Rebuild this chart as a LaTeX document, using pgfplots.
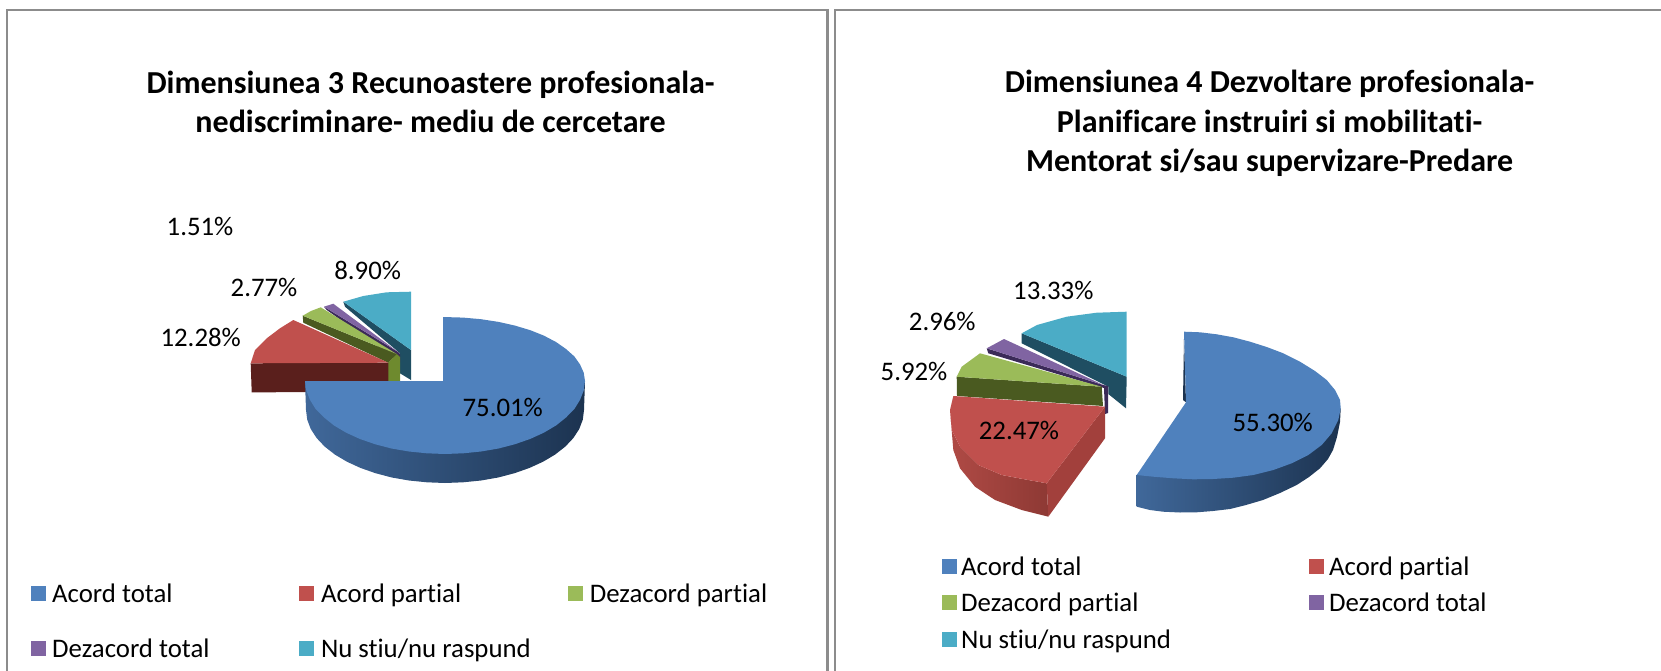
\documentclass[border=0pt]{standalone}
\usepackage{pgfplots}
\pgfplotsset{compat=1.18}
\usepackage{fontspec}
\setmainfont[Ligatures=NoCommon]{Carlito}
\definecolor{cb}{HTML}{4F81BD}
\definecolor{cr}{HTML}{C0504D}
\definecolor{cg}{HTML}{9BBB59}
\definecolor{cp}{HTML}{8064A2}
\definecolor{ct}{HTML}{4BACC6}
\definecolor{dr}{HTML}{5A1F1C}
\definecolor{dg}{HTML}{4A5A20}
\definecolor{og}{HTML}{6E8A2E}
\definecolor{dp}{HTML}{3B2A58}
\definecolor{dt}{HTML}{1F4E62}
\definecolor{frame}{HTML}{8C8C8C}
\definecolor{bl}{HTML}{40689A}
\definecolor{br}{HTML}{1C3350}
\definecolor{rl}{HTML}{AF4A45}
\definecolor{rr}{HTML}{8E3934}
\definecolor{rf}{HTML}{A2403C}
\newcommand{\poly}[2]{\addplot[draw=none,fill=#1,forget plot] coordinates {#2} --cycle;}
\newcommand{\spoly}[3]{\addplot[draw=none,left color=#1,right color=#2,forget plot] coordinates {#3} --cycle;}
\newcommand{\key}[5]{\addplot[draw=none,fill=#1,forget plot] coordinates {(#2,#4) (#3,#4) (#3,#5) (#2,#5)} --cycle;}
\newcommand{\lab}[3]{\node[font=\fontsize{26.8}{32}\selectfont,anchor=center] at (axis cs:#1,#2) {#3};}
\newcommand{\leg}[3]{\node[font=\fontsize{26.8}{32}\selectfont,anchor=base west,inner sep=0pt] at (axis cs:#1,#2) {#3};}
\begin{document}
\begin{tikzpicture}
\useasboundingbox (0,0) rectangle (1661pt,671pt);
\begin{axis}[at={(0,0)},anchor=south west,scale only axis,width=1661pt,height=671pt,
  xmin=0,xmax=1661,ymin=0,ymax=671,y dir=reverse,axis lines=none,clip=true]
% frames
\addplot[frame,line width=2.2pt,forget plot] coordinates {(7,671) (7,10) (827.5,10) (827.5,671)};
\addplot[frame,line width=2.2pt,forget plot] coordinates {(835,671) (835,10) (1661,10)};
% --- left pie
\poly{dt}{(343.3,301.7) (411,350) (411,380) (400,373.3) (400,353.3) (345,306.7)}
\poly{ct}{(343.3,301.7) (363.3,296) (386.7,292.3) (411,291.7) (411,350)}
\poly{dp}{(324,306.7) (397.7,351.7) (400,354) (400,362) (396.7,360) (326.7,310)}
\poly{cp}{(324,306.7) (333.3,303.7) (397.7,351.7)}
\poly{og}{(388,362.7) (396.7,354) (400,357) (400,381) (388,381)}
\poly{dg}{(302.7,315.7) (396.7,354) (388,362.7) (303.3,322.7)}
\poly{cg}{(302.7,315.7) (311,311) (320.7,307.3) (396.7,354)}
\poly{dr}{(250.7,363.3) (388.3,362.7) (388.3,392) (251.7,392.3)}
\poly{cr}{(250.7,363.3) (255,350) (266.7,338.3) (280,328.3) (293.3,320) (388.3,362.7)}
\spoly{bl}{br}{(585,381) (584,410) (582.8,419.6) (579.3,428.9) (573.4,438) (565.4,446.5) (555.2,454.5) (543.3,461.6) (529.6,467.9) (514.5,473.2) (498.2,477.5) (481,480.5) (463.2,482.3) (445,483) (426.8,482.3) (409,480.5) (391.8,477.5) (375.5,473.2) (360.4,467.9) (346.7,461.6) (334.8,454.5) (324.6,446.5) (316.6,438) (310.7,428.9) (307.2,419.6) (306,410) (305,381)}
\poly{cb}{(443,381) (443,317) (463.3,317.6) (481,319.2) (498.6,321.9) (515,325.6) (530.3,330.2) (544,335.7) (556,342) (566,349) (574.4,356.5) (580,364.4) (583.7,372.6) (585,381) (583.7,390.6) (580,399.9) (574.4,409) (566,417.5) (556,425.5) (544,432.6) (530.3,438.9) (515,444.2) (498.6,448.5) (481,451.5) (463.3,453.3) (445,454) (426.7,453.3) (409,451.5) (391.4,448.5) (375,444.2) (359.7,438.9) (346,432.6) (334,425.5) (324,417.5) (315.6,409) (310,399.9) (306.3,390.6) (305,381)}
% --- right pie
\poly{dt}{(1021.7,333.3) (1126.7,376.7) (1126,408.3) (1108.3,394) (1108.3,386.7) (1021.7,343.3)}
\poly{ct}{(1021.7,333.3) (1037,325) (1066.7,316.7) (1096.7,312.7) (1126.7,311.7) (1126.7,376.7)}
\poly{dp}{(986.7,348.3) (1103.3,385) (1108,386) (1108,413) (1105,414) (1104,388) (988.3,353.3)}
\poly{cp}{(986.7,348.3) (1004,339) (1103.3,385)}
\poly{dg}{(956.7,376.7) (1101.7,386.7) (1103,406) (957,396)}
\poly{cg}{(956.7,376.7) (961.7,366.7) (980,353.3) (1101.7,386.7)}
\spoly{rl}{rr}{(950,410) (951.7,430) (960,446.7) (978.3,465) (1001.7,475) (1028.3,480) (1046.7,483.3) (1048.3,516.7) (1021.7,510) (995,500) (975,486.7) (960,468.3) (953.3,450)}
\poly{rf}{(1046.7,483.3) (1105,406.7) (1105,438.3) (1048.3,516.7)}
\poly{cr}{(953.3,396) (950,410) (951.7,430) (960,446.7) (978.3,465) (1001.7,475) (1028.3,480) (1046.7,483.3) (1105,406.7)}
\poly{br}{(1184,338) (1186,402.3) (1183,400)}
\spoly{bl}{br}{(1340.7,408.3) (1340,422) (1337,437) (1333,450) (1328,459) (1320,468.3) (1309,477) (1296.7,485) (1280,493) (1263,500) (1246,505) (1230,509) (1213,511) (1196.7,512.3) (1180,512.5) (1163,511.7) (1150,510) (1136.7,506.7) (1136.7,475)}
\poly{cb}{(1186,402.3) (1184,331.7) (1200,332.3) (1216.7,334.3) (1233.3,337.3) (1250,341.7) (1266.7,347) (1283.3,353.3) (1300,361.7) (1315,371) (1326.7,380) (1335,390) (1340,400) (1340.7,408.3) (1338.3,420) (1331.7,433.3) (1321.7,445) (1308.3,455) (1291.7,463.3) (1273.3,470) (1253.3,475) (1233.3,477.7) (1213.3,479) (1193.3,479.3) (1173.3,478.3) (1153.3,476.7) (1136.7,475)}
% keys
\key{cb}{31.3}{46.3}{585.8}{600.8}
\key{cr}{299}{314}{585.8}{600.8}
\key{cg}{567.7}{582.7}{585.8}{600.8}
\key{cp}{31.3}{46.3}{640.8}{655.8}
\key{ct}{299}{314}{640.8}{655.8}
\key{cb}{941.7}{956.7}{559.2}{574.2}
\key{cr}{1309}{1324}{559.2}{574.2}
\key{cg}{941.7}{956.7}{595.2}{610.2}
\key{cp}{1309}{1324}{595.2}{610.2}
\key{ct}{941.7}{956.7}{632.3}{647.3}
% titles
\node[font=\fontsize{32}{39}\selectfont\bfseries,align=center,anchor=center] at (axis cs:430.6,102) {Dimensiunea 3 Recunoastere profesionala-\\nediscriminare- mediu de cercetare};
\node[font=\fontsize{32}{39.5}\selectfont\bfseries,align=center,anchor=center] at (axis cs:1269.6,123.5) {Dimensiunea 4 Dezvoltare profesionala-\\Planificare instruiri si mobilitati-\\Mentorat si/sau supervizare-Predare};
% data labels
\lab{200}{226}{1.51\%}
\lab{367.7}{270}{8.90\%}
\lab{264}{287.7}{2.77\%}
\lab{200.7}{337.7}{12.28\%}
\lab{502.7}{407.3}{75.01\%}
\lab{1053.3}{290}{13.33\%}
\lab{942.3}{321.7}{2.96\%}
\lab{914}{371.7}{5.92\%}
\lab{1019}{430}{22.47\%}
\lab{1272.7}{422.3}{55.30\%}
% legend
\leg{52}{602.3}{Acord total}
\leg{320.8}{602.3}{Acord partial}
\leg{589.7}{602.3}{Dezacord partial}
\leg{52}{657.3}{Dezacord total}
\leg{320.8}{657.3}{Nu stiu/nu raspund}
\leg{961}{575.7}{Acord total}
\leg{1329}{575.7}{Acord partial}
\leg{961}{611.7}{Dezacord partial}
\leg{1329}{611.7}{Dezacord total}
\leg{961}{648.8}{Nu stiu/nu raspund}
\end{axis}
\end{tikzpicture}
\end{document}
